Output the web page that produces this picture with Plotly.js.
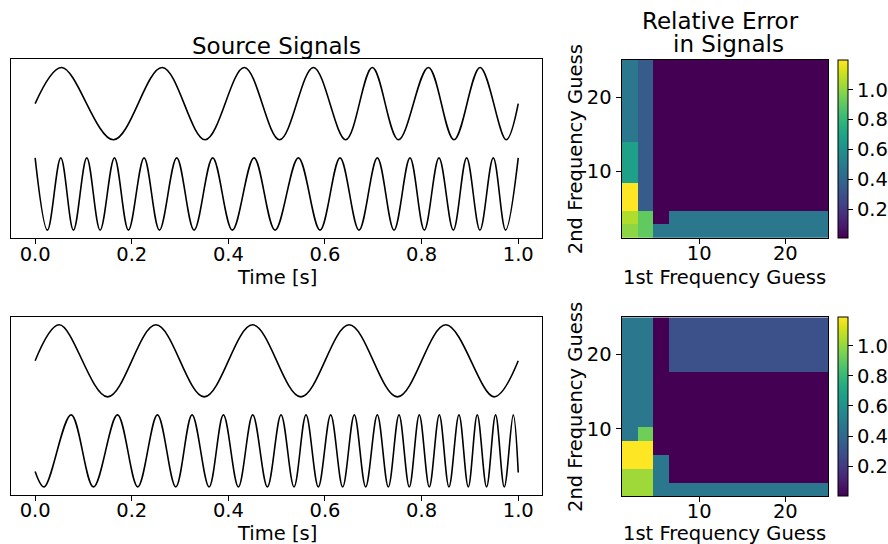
<!DOCTYPE html>
<html>
<head>
<meta charset="utf-8">
<script src="https://cdn.plot.ly/plotly-3.0.1.min.js"></script>
<style>html,body{margin:0;padding:0;background:#fff;}#chart{width:888px;height:544px;}</style>
</head>
<body>
<div id="chart"></div>
<script>
// ---------- DATA (times of extrema, values) ----------
// Top panel, upper source (chirp, offset 2.5)
const topUpperT = [0, 0.055, 0.162, 0.263, 0.352, 0.433, 0.506, 0.576, 0.643, 0.698, 0.752, 0.814, 0.867, 0.921, 0.975, 1.0];
const topUpperY = [2.5, 3.5, 1.5, 3.5, 1.5, 3.5, 1.5, 3.5, 1.5, 3.5, 1.5, 3.5, 1.5, 3.5, 1.5, 2.5];
// Top panel, lower source
const topLowerT = [0, 0.0255, 0.0531, 0.0793, 0.1069, 0.1345, 0.1642, 0.1931, 0.2255, 0.2573, 0.2931, 0.329, 0.3676, 0.4083, 0.4531, 0.4966,
                   0.5449, 0.5897, 0.6311, 0.6704, 0.7083, 0.7428, 0.7759, 0.8056, 0.8359, 0.8656, 0.8932, 0.9207, 0.9483, 0.9738, 1.0];
const topLowerY = [1, -1, 1, -1, 1, -1, 1, -1, 1, -1, 1, -1, 1, -1, 1, -1,
                   1, -1, 1, -1, 1, -1, 1, -1, 1, -1, 1, -1, 1, -1, 1];
// Bottom panel, upper source (offset 2.5)
const botUpperT = [0, 0.05, 0.15, 0.25, 0.35, 0.45, 0.55, 0.65, 0.75, 0.85, 0.95, 1.0];
const botUpperY = [2.5, 3.5, 1.5, 3.5, 1.5, 3.5, 1.5, 3.5, 1.5, 3.5, 1.5, 2.5];
// Bottom panel, lower source
const botLowerT = [0, 0.0186, 0.0745, 0.1207, 0.1704, 0.2124, 0.2531, 0.2911, 0.3248, 0.36, 0.3897, 0.4207, 0.4504, 0.4807,
                   0.509, 0.5359, 0.5607, 0.5862, 0.6118, 0.6366, 0.6607, 0.6842, 0.7083, 0.7311, 0.7532, 0.7745, 0.7952,
                   0.8159, 0.8366, 0.8566, 0.8773, 0.8966, 0.9152, 0.9345, 0.9531, 0.9711, 0.9897, 1.0];
const botLowerY = [-0.57, -1, 1, -1, 1, -1, 1, -1, 1, -1, 1, -1, 1, -1,
                   1, -1, 1, -1, 1, -1, 1, -1, 1, -1, 1, -1, 1,
                   -1, 1, -1, 1, -1, 1, -1, 1, -1, 1, -0.6];

const timeTicks = [0, 0.2, 0.4, 0.6, 0.8, 1.0];
const freqTicks = [10, 20];
const errTicks = [0.2, 0.4, 0.6, 0.8, 1.0];
const freqExtent = [1, 25];

// Relative error grids, rows from bottom (2nd guess) x columns (1st guess)
const errTop = [
  [1.0, 0.91, 0.48, 0.48, 0.48, 0.48, 0.48, 0.48, 0.48, 0.48, 0.48, 0.48, 0.48],
  [1.06, 0.91, 0.007, 0.48, 0.48, 0.48, 0.48, 0.48, 0.48, 0.48, 0.48, 0.48, 0.48],
  [1.2, 0.35, 0.007, 0.007, 0.007, 0.007, 0.007, 0.007, 0.007, 0.007, 0.007, 0.007, 0.007],
  [1.2, 0.35, 0.007, 0.007, 0.007, 0.007, 0.007, 0.007, 0.007, 0.007, 0.007, 0.007, 0.007],
  [0.68, 0.35, 0.007, 0.007, 0.007, 0.007, 0.007, 0.007, 0.007, 0.007, 0.007, 0.007, 0.007],
  [0.68, 0.35, 0.007, 0.007, 0.007, 0.007, 0.007, 0.007, 0.007, 0.007, 0.007, 0.007, 0.007],
  [0.68, 0.35, 0.007, 0.007, 0.007, 0.007, 0.007, 0.007, 0.007, 0.007, 0.007, 0.007, 0.007],
  [0.48, 0.35, 0.007, 0.007, 0.007, 0.007, 0.007, 0.007, 0.007, 0.007, 0.007, 0.007, 0.007],
  [0.48, 0.35, 0.007, 0.007, 0.007, 0.007, 0.007, 0.007, 0.007, 0.007, 0.007, 0.007, 0.007],
  [0.48, 0.35, 0.007, 0.007, 0.007, 0.007, 0.007, 0.007, 0.007, 0.007, 0.007, 0.007, 0.007],
  [0.48, 0.35, 0.007, 0.007, 0.007, 0.007, 0.007, 0.007, 0.007, 0.007, 0.007, 0.007, 0.007],
  [0.48, 0.35, 0.007, 0.007, 0.007, 0.007, 0.007, 0.007, 0.007, 0.007, 0.007, 0.007, 0.007],
  [0.48, 0.35, 0.007, 0.007, 0.007, 0.007, 0.007, 0.007, 0.007, 0.007, 0.007, 0.007, 0.007]
];
const errBot = [
  [1.02, 1.02, 0.47, 0.47, 0.47, 0.47, 0.47, 0.47, 0.47, 0.47, 0.47, 0.47, 0.47],
  [1.02, 1.02, 0.47, 0.001, 0.001, 0.001, 0.001, 0.001, 0.001, 0.001, 0.001, 0.001, 0.001],
  [1.19, 1.19, 0.47, 0.001, 0.001, 0.001, 0.001, 0.001, 0.001, 0.001, 0.001, 0.001, 0.001],
  [1.19, 1.19, 0.001, 0.001, 0.001, 0.001, 0.001, 0.001, 0.001, 0.001, 0.001, 0.001, 0.001],
  [0.47, 0.93, 0.001, 0.001, 0.001, 0.001, 0.001, 0.001, 0.001, 0.001, 0.001, 0.001, 0.001],
  [0.47, 0.47, 0.001, 0.001, 0.001, 0.001, 0.001, 0.001, 0.001, 0.001, 0.001, 0.001, 0.001],
  [0.47, 0.47, 0.001, 0.001, 0.001, 0.001, 0.001, 0.001, 0.001, 0.001, 0.001, 0.001, 0.001],
  [0.47, 0.47, 0.001, 0.001, 0.001, 0.001, 0.001, 0.001, 0.001, 0.001, 0.001, 0.001, 0.001],
  [0.47, 0.47, 0.001, 0.001, 0.001, 0.001, 0.001, 0.001, 0.001, 0.001, 0.001, 0.001, 0.001],
  [0.47, 0.47, 0.001, 0.29, 0.29, 0.29, 0.29, 0.29, 0.29, 0.29, 0.29, 0.29, 0.29],
  [0.47, 0.47, 0.001, 0.29, 0.29, 0.29, 0.29, 0.29, 0.29, 0.29, 0.29, 0.29, 0.29],
  [0.47, 0.47, 0.001, 0.29, 0.29, 0.29, 0.29, 0.29, 0.29, 0.29, 0.29, 0.29, 0.29],
  [0.47, 0.47, 0.001, 0.29, 0.29, 0.29, 0.29, 0.29, 0.29, 0.29, 0.29, 0.29, 0.29]
];

// ---------- LAYOUT HELPERS ----------
const W = 888, H = 544;
const FONT = 'DejaVu Sans, Liberation Sans, sans-serif';
const TICK = 19.5, LABEL = 19.5, TITLE = 23;
const nCells = errTop[0].length;
const cellEdges = Array.from({length: nCells + 1}, (_, k) => freqExtent[0] + k * (freqExtent[1] - freqExtent[0]) / nCells);
const xd = (a, b) => [a / W, b / W];
const yd = (top, bottom) => [1 - bottom / H, 1 - top / H];

const boxes = {
  lt: {x: [11, 543], y: [59.3, 238.3]},
  ht: {x: [622.3, 829.3], y: [60, 237.7]},
  lb: {x: [11, 543], y: [316.7, 495]},
  hb: {x: [622.3, 829.3], y: [317.3, 496]}
};

const lineStyle = {color: '#000', width: 1.6, shape: 'spline', smoothing: 1};
function sig(x, y, xa, ya) {
  return {type: 'scatter', mode: 'lines', x: x, y: y, xaxis: xa, yaxis: ya, line: lineStyle, hoverinfo: 'skip', showlegend: false};
}
function heat(z, xa, ya, box) {
  const yc = (box.y[0] + box.y[1]) / 2;
  return {
    type: 'heatmap', z: z, x: cellEdges, y: cellEdges, xaxis: xa, yaxis: ya,
    colorscale: 'Viridis', hoverinfo: 'skip',
    colorbar: {
      thickness: 10, thicknessmode: 'pixels',
      len: box.y[1] - box.y[0], lenmode: 'pixels',
      x: 838.3 / W, xanchor: 'left', xref: 'paper',
      y: 1 - yc / H, yanchor: 'middle', yref: 'paper',
      xpad: 0, ypad: 0, outlinewidth: 1, outlinecolor: '#000',
      tickvals: errTicks, tickformat: '.1f', ticks: 'outside', ticklen: 5, tickwidth: 1, tickcolor: '#000',
      tickfont: {family: FONT, size: TICK, color: '#000'}
    }
  };
}

const baseAxis = {
  showline: true, mirror: true, linecolor: '#000', linewidth: 1,
  showgrid: false, zeroline: false, ticks: 'outside', ticklen: 5, tickwidth: 1, tickcolor: '#000',
  tickfont: {family: FONT, size: TICK, color: '#000'}, fixedrange: true
};
const timeAxis = b => Object.assign({}, baseAxis, {domain: xd(...b.x), range: [-0.05, 1.05], tickvals: timeTicks, tickformat: '.1f', ticklabelstandoff: -7});
const sigYAxis = (b, anchor) => Object.assign({}, baseAxis, {domain: yd(...b.y), range: [-1.225, 3.725], showticklabels: false, ticks: '', anchor: anchor});
const freqXAxis = (b, anchor) => Object.assign({}, baseAxis, {domain: xd(...b.x), range: freqExtent, tickvals: freqTicks, anchor: anchor, ticklabelstandoff: -7});
const freqYAxis = (b, anchor) => Object.assign({}, baseAxis, {domain: yd(...b.y), range: freqExtent, tickvals: freqTicks, anchor: anchor});

function ann(text, xpx, ypx, size, angle) {
  return {text: text, xref: 'paper', yref: 'paper', x: xpx / W, y: 1 - ypx / H, xanchor: 'center', yanchor: 'middle',
          showarrow: false, textangle: angle || 0, font: {family: FONT, size: size, color: '#000'}};
}

const data = [
  sig(topUpperT, topUpperY, 'x', 'y'),
  sig(topLowerT, topLowerY, 'x', 'y'),
  heat(errTop, 'x2', 'y2', boxes.ht),
  sig(botUpperT, botUpperY, 'x3', 'y3'),
  sig(botLowerT, botLowerY, 'x3', 'y3'),
  heat(errBot, 'x4', 'y4', boxes.hb)
];

const layout = {
  width: W, height: H, margin: {l: 0, r: 0, t: 0, b: 0},
  paper_bgcolor: '#fff', plot_bgcolor: '#fff', showlegend: false,
  font: {family: FONT, color: '#000'},
  xaxis: Object.assign(timeAxis(boxes.lt), {anchor: 'y'}),
  yaxis: sigYAxis(boxes.lt, 'x'),
  xaxis2: freqXAxis(boxes.ht, 'y2'),
  yaxis2: freqYAxis(boxes.ht, 'x2'),
  xaxis3: Object.assign(timeAxis(boxes.lb), {anchor: 'y3'}),
  yaxis3: sigYAxis(boxes.lb, 'x3'),
  xaxis4: freqXAxis(boxes.hb, 'y4'),
  yaxis4: freqYAxis(boxes.hb, 'x4'),
  annotations: [
    ann('Source Signals', 277, 46, TITLE),
    ann('Relative Error', 721.7, 20.5, TITLE),
    ann('in Signals', 729.5, 43.5, TITLE),
    ann('Time [s]', 277, 277, LABEL),
    ann('Time [s]', 277, 533, LABEL),
    ann('1st Frequency Guess', 725.8, 277, LABEL),
    ann('1st Frequency Guess', 725.8, 533, LABEL),
    ann('2nd Frequency Guess', 576, 148.85, LABEL, -90),
    ann('2nd Frequency Guess', 576, 406.65, LABEL, -90)
  ]
};

Plotly.newPlot('chart', data, layout, {staticPlot: true, displayModeBar: false});
</script>
</body>
</html>
